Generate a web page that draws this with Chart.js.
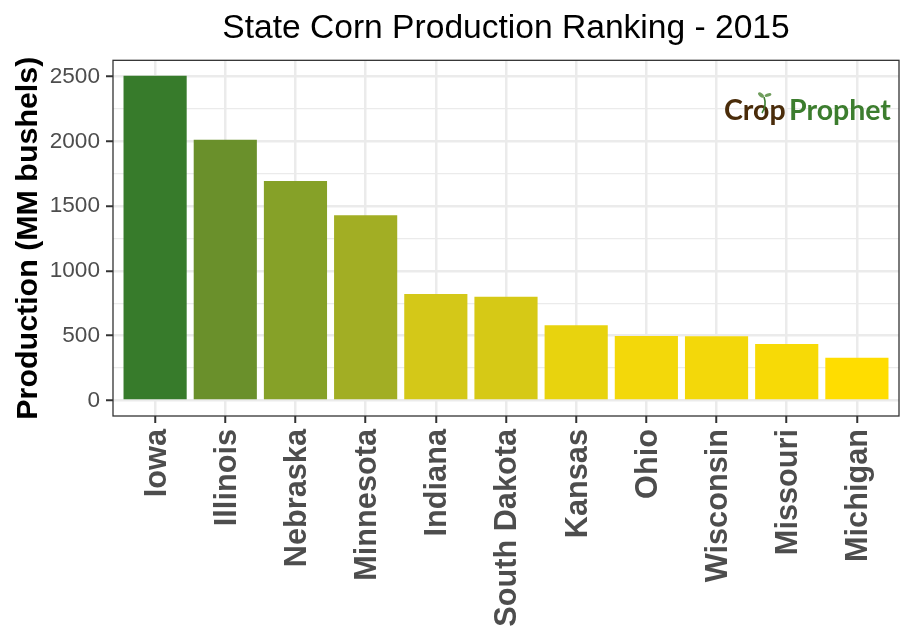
<!DOCTYPE html>
<html>
<head>
<meta charset="utf-8">
<title>State Corn Production Ranking - 2015</title>
<style>
  html, body { margin: 0; padding: 0; background: #fff; }
  canvas { display: block; }
</style>
<script src="https://cdn.jsdelivr.net/npm/chart.js@4/dist/chart.umd.min.js"></script>
</head>
<body>
<canvas id="corn-chart" width="914" height="640"></canvas>
<script>
const states = ['Iowa', 'Illinois', 'Nebraska', 'Minnesota', 'Indiana', 'South Dakota', 'Kansas', 'Ohio', 'Wisconsin', 'Missouri', 'Michigan'];
const production = [2505, 2012, 1693, 1429, 822, 800, 580, 498, 495, 435, 330];
const barColors = ['#377b2b', '#6a902b', '#86a128', '#a2ae24', '#d4c818', '#d6c916', '#e8d30e', '#f3d80a', '#f3d80a', '#f7da06', '#ffdd00'];
const yTicks = [0, 250, 500, 750, 1000, 1250, 1500, 1750, 2000, 2250, 2500];

const FONT = '"Liberation Sans", Arial, sans-serif';
const GRID = '#ebebeb';
const TICK = '#333333';

// panel border and logo sit on top of the bars
const panelExtras = {
    id: 'panelExtras',
    afterDatasetsDraw(chart) {
        const { ctx, chartArea: a } = chart;
        ctx.save();
        ctx.strokeStyle = '#333333';
        ctx.lineWidth = 1.3;
        ctx.strokeRect(a.left, a.top, a.right - a.left, a.bottom - a.top);

        ctx.font = 'bold 28.5px Lato, sans-serif';
        ctx.textBaseline = 'alphabetic';
        ctx.fillStyle = '#4a2c0a';
        ctx.fillText('Crop', 724, 120);
        ctx.fillStyle = '#3c7d2e';
        ctx.fillText('Prophet', 789, 120);

        // sprout over the "o"
        ctx.strokeStyle = '#3c7d2e';
        ctx.lineWidth = 1.6;
        ctx.beginPath();
        ctx.moveTo(762, 113);
        ctx.quadraticCurveTo(767, 105, 764, 97);
        ctx.stroke();
        ctx.fillStyle = '#6f9d5c';
        ctx.beginPath();
        ctx.ellipse(761, 95, 3.5, 1.8, 0.7, 0, Math.PI * 2);
        ctx.fill();
        ctx.beginPath();
        ctx.ellipse(768, 95, 3.5, 1.6, -0.3, 0, Math.PI * 2);
        ctx.fill();
        ctx.restore();
    }
};

new Chart(document.getElementById('corn-chart'), {
    type: 'bar',
    data: {
        datasets: [{
            data: production.map((v, i) => ({ x: i, y: v })),
            backgroundColor: barColors,
            barPercentage: 0.9,
            categoryPercentage: 1
        }]
    },
    plugins: [panelExtras],
    options: {
        responsive: false,
        animation: false,
        layout: { padding: { left: 0, right: 15, top: 0, bottom: 0 } },
        plugins: {
            legend: { display: false },
            tooltip: { enabled: false },
            title: {
                display: true,
                fullSize: false,
                text: 'State Corn Production Ranking - 2015',
                color: '#000000',
                font: { family: FONT, size: 33.6, weight: 'normal' },
                padding: { top: 9, bottom: 11 }
            }
        },
        scales: {
            x: {
                type: 'linear',
                offset: false,
                min: -0.6,
                max: 10.6,
                afterBuildTicks(scale) {
                    scale.ticks = states.map((s, i) => ({ value: i }));
                },
                afterFit(scale) {
                    scale.height = 224;
                },
                ticks: {
                    autoSkip: false,
                    minRotation: 90,
                    maxRotation: 90,
                    color: '#4d4d4d',
                    font: { family: FONT, size: 30.7, weight: 'bold' },
                    padding: 6,
                    labelOffset: 2,
                    callback: value => states[value]
                },
                grid: {
                    offset: false,
                    color: GRID,
                    lineWidth: 2.5,
                    tickColor: TICK,
                    tickWidth: 2,
                    tickLength: 7
                },
                border: { display: false }
            },
            y: {
                type: 'linear',
                min: -120,
                max: 2625,
                afterBuildTicks(scale) {
                    scale.ticks = yTicks.map(v => ({ value: v }));
                },
                afterFit(scale) {
                    scale.width = 113;
                },
                title: {
                    display: true,
                    text: 'Production (MM bushels)',
                    color: '#000000',
                    font: { family: FONT, size: 30.4, weight: 'bold' },
                    padding: { top: 10, bottom: 0 }
                },
                ticks: {
                    color: '#4d4d4d',
                    font: { family: FONT, size: 22.6 },
                    padding: 6,
                    callback: value => (value % 500 === 0 ? String(value) : '')
                },
                grid: {
                    color: GRID,
                    lineWidth: ctx => (ctx.tick && ctx.tick.value % 500 === 0 ? 2.5 : 1.3),
                    tickColor: ctx => (ctx.tick && ctx.tick.value % 500 === 0 ? TICK : 'rgba(0,0,0,0)'),
                    tickWidth: 2,
                    tickLength: 7
                },
                border: { display: false }
            }
        }
    }
});
</script>
</body>
</html>
